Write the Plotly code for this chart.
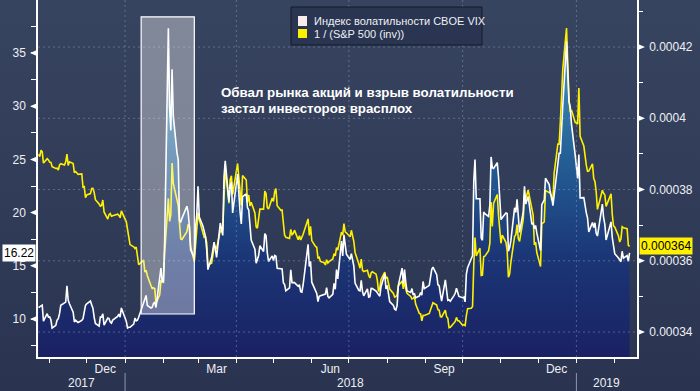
import plotly.graph_objects as go

# ---------------- data (daily closes) ----------------
trade_days = {
    "2017-10": "23 24 25 26 27 30 31",
    "2017-11": "1 2 3 6 7 8 9 10 13 14 15 16 17 20 21 22 24 27 28 29 30",
    "2017-12": "1 4 5 6 7 8 11 12 13 14 15 18 19 20 21 22 26 27 28 29",
    "2018-01": "2 3 4 5 8 9 10 11 12 16 17 18 19 22 23 24 25 26 29 30 31",
    "2018-02": "1 2 5 6 7 8 9 12 13 14 15 16 20 21 22 23 26 27 28",
    "2018-03": "1 2 5 6 7 8 9 12 13 14 15 16 19 20 21 22 23 26 27 28 29",
    "2018-04": "2 3 4 5 6 9 10 11 12 13 16 17 18 19 20 23 24 25 26 27 30",
    "2018-05": "1 2 3 4 7 8 9 10 11 14 15 16 17 18 21 22 23 24 25 29 30 31",
    "2018-06": "1 4 5 6 7 8 11 12 13 14 15 18 19 20 21 22 25 26 27 28 29",
    "2018-07": "2 3 5 6 9 10 11 12 13 16 17 18 19 20 23 24 25 26 27 30 31",
    "2018-08": "1 2 3 6 7 8 9 10 13 14 15 16 17 20 21 22 23 24 27 28 29 30 31",
    "2018-09": "4 5 6 7 10 11 12 13 14 17 18 19 20 21 24 25 26 27 28",
    "2018-10": "1 2 3 4 5 8 9 10 11 12 15 16 17 18 19 22 23 24 25 26 29 30 31",
    "2018-11": "1 2 5 6 7 8 9 12 13 14 15 16 19 20 21 23 26 27 28 29 30",
    "2018-12": "3 4 6 7 10 11 12 13 14 17 18 19 20 21 24 26 27 28 31",
    "2019-01": "2 3 4 7 8 9 10 11 14 15 16 17 18 22 23 24 25 28 29 30 31",
    "2019-02": "1 4 5 6 7 8 11 12 13",
}
dates = [f"{m}-{int(d):02d}" for m, s in trade_days.items() for d in s.split()]

vix = [
    11.07, 11.16, 11.23, 11.30, 9.80, 10.50, 10.18,
    10.20, 9.93, 9.14, 9.40, 9.89, 10.03, 10.50, 11.29, 11.50, 11.59, 13.13, 11.76, 11.43, 10.65, 9.73, 9.88, 9.67, 9.87, 10.03, 10.70, 11.28,
    11.43, 11.68, 11.33, 11.02, 10.16, 9.58, 9.34, 10.18, 10.18, 10.49, 9.42, 10.09, 10.03, 9.72, 9.62, 9.90, 10.25, 10.47, 10.18, 11.04,
    9.77, 9.15, 9.22, 9.22, 9.52, 10.08, 9.82, 9.88, 10.16, 11.66, 11.91, 12.22, 11.27, 11.03, 11.10, 11.47, 11.58, 11.08, 13.84, 14.79, 13.54,
    13.47, 17.31, 37.32, 29.98, 27.73, 33.46, 29.06, 25.61, 24.97, 19.26, 19.13, 19.46, 20.60, 20.02, 18.72, 16.49, 15.80, 18.59, 19.85,
    22.47, 19.59, 18.73, 18.36, 17.76, 16.54, 14.64, 15.78, 16.35, 17.23, 16.59, 15.80, 19.02, 18.20, 17.86, 23.34, 24.87, 21.03, 22.50, 22.87, 19.97,
    23.62, 21.10, 20.06, 18.94, 21.49, 21.77, 20.47, 20.24, 18.49, 17.41, 16.56, 15.25, 15.60, 15.96, 16.88, 16.34, 18.02, 17.84, 16.24, 15.41, 15.93,
    15.49, 15.97, 15.90, 14.77, 14.75, 14.71, 13.42, 13.23, 12.65, 12.93, 14.63, 13.42, 13.43, 13.42, 13.08, 13.22, 12.58, 12.53, 13.22, 17.02, 14.94, 15.43,
    13.46, 12.74, 12.40, 11.64, 12.13, 12.18, 12.35, 12.34, 12.94, 12.12, 11.98, 12.31, 13.35, 12.79, 14.64, 13.77, 17.33, 15.92, 17.91, 16.85, 16.09,
    15.60, 16.14, 14.97, 13.37, 12.69, 12.64, 13.63, 12.58, 12.18, 12.83, 12.06, 12.10, 12.87, 12.86, 12.62, 12.41, 12.29, 12.14, 13.03, 14.26, 12.83,
    13.15, 12.19, 11.64, 11.27, 10.93, 10.85, 11.27, 13.16, 14.78, 13.31, 14.64, 13.45, 12.64, 12.49, 12.86, 12.25, 12.41, 11.99, 12.16, 12.50, 12.25, 13.53, 12.86,
    13.16, 13.91, 14.65, 14.88, 14.16, 13.22, 13.14, 12.37, 11.68, 13.68, 12.79, 11.75, 11.80, 11.68, 12.20, 12.42, 12.89, 12.41, 12.12,
    12.00, 12.05, 11.61, 14.22, 14.82, 15.69, 15.95, 22.96, 24.98, 21.31, 21.30, 17.62, 17.40, 20.06, 19.89, 19.64, 20.71, 25.23, 24.22, 24.16, 24.70, 23.35, 21.23,
    19.34, 19.51, 19.96, 19.91, 16.36, 16.72, 17.36, 20.45, 20.02, 21.25, 19.98, 18.14, 20.10, 22.48, 20.80, 21.52, 18.90, 19.02, 18.49, 18.79, 18.07,
    16.44, 20.74, 21.19, 23.23, 22.64, 21.76, 21.46, 20.65, 21.63, 24.52, 25.58, 25.58, 28.38, 30.11, 36.07, 30.41, 29.96, 28.34, 25.42,
    23.22, 25.45, 21.38, 21.40, 20.47, 19.98, 19.50, 18.19, 19.07, 18.60, 19.04, 18.06, 17.80, 20.80, 19.52, 18.89, 17.42, 18.87, 19.13, 17.66, 16.57,
    16.14, 15.73, 15.57, 15.38, 16.37, 15.72, 15.97, 15.43, 16.22,
]

spx = [
    2564.98, 2569.13, 2557.15, 2560.40, 2581.07, 2572.83, 2575.26,
    2579.36, 2579.85, 2587.84, 2591.13, 2590.64, 2594.38, 2584.62, 2582.30, 2584.84, 2578.87, 2564.62, 2585.64, 2578.85, 2582.14, 2599.03, 2597.08, 2602.42, 2601.42, 2627.04, 2626.07, 2647.58,
    2642.22, 2639.44, 2629.57, 2629.27, 2636.98, 2651.50, 2659.99, 2664.11, 2662.85, 2652.01, 2675.81, 2690.16, 2681.47, 2679.25, 2684.57, 2683.34, 2680.50, 2682.62, 2687.54, 2673.61,
    2695.81, 2713.06, 2723.99, 2743.15, 2747.71, 2751.29, 2748.23, 2767.56, 2786.24, 2776.42, 2802.56, 2798.03, 2810.30, 2832.97, 2839.13, 2837.54, 2839.25, 2872.87, 2853.53, 2822.43, 2823.81,
    2821.98, 2762.13, 2648.94, 2695.14, 2681.66, 2581.00, 2619.55, 2656.00, 2662.94, 2698.63, 2731.20, 2732.22, 2716.26, 2701.33, 2703.96, 2747.30, 2779.60, 2744.28, 2713.83,
    2677.67, 2691.25, 2720.94, 2728.12, 2726.80, 2738.97, 2786.57, 2783.02, 2765.31, 2749.48, 2747.33, 2752.01, 2712.92, 2716.94, 2711.93, 2643.69, 2588.26, 2658.55, 2612.62, 2605.00, 2640.87,
    2581.88, 2614.45, 2644.69, 2662.84, 2604.47, 2613.16, 2656.87, 2642.19, 2663.99, 2656.30, 2677.84, 2706.39, 2708.64, 2693.13, 2670.14, 2670.29, 2634.56, 2639.40, 2666.94, 2669.91, 2648.05,
    2654.80, 2635.67, 2629.73, 2663.42, 2672.63, 2671.92, 2697.79, 2723.07, 2727.72, 2730.13, 2711.45, 2722.46, 2720.13, 2712.97, 2733.01, 2724.44, 2733.29, 2727.76, 2721.33, 2689.86, 2724.01, 2705.27,
    2734.62, 2746.87, 2748.80, 2772.35, 2770.37, 2779.03, 2782.00, 2786.85, 2775.63, 2782.49, 2779.66, 2773.75, 2762.59, 2767.32, 2749.76, 2754.88, 2717.07, 2723.06, 2699.63, 2716.31, 2718.37,
    2726.71, 2713.22, 2736.61, 2759.82, 2784.17, 2793.84, 2774.02, 2798.29, 2801.31, 2798.43, 2809.55, 2815.62, 2804.49, 2801.83, 2806.98, 2820.40, 2846.07, 2837.44, 2818.82, 2802.60, 2816.29,
    2813.36, 2827.22, 2840.35, 2850.40, 2858.45, 2857.70, 2853.58, 2833.28, 2821.93, 2839.96, 2818.37, 2840.69, 2850.13, 2857.05, 2862.96, 2861.82, 2856.98, 2874.69, 2896.74, 2897.52, 2914.04, 2901.13, 2901.52,
    2896.72, 2888.60, 2878.05, 2871.68, 2877.13, 2887.89, 2888.92, 2904.18, 2904.98, 2888.80, 2904.31, 2907.95, 2930.75, 2929.67, 2919.37, 2915.56, 2905.97, 2914.00, 2913.98,
    2924.59, 2923.43, 2925.51, 2901.61, 2885.57, 2884.43, 2880.34, 2785.68, 2728.37, 2767.13, 2750.79, 2809.92, 2809.21, 2768.78, 2767.78, 2755.88, 2740.69, 2656.10, 2705.57, 2658.69, 2641.25, 2682.63, 2711.74,
    2740.37, 2723.06, 2738.31, 2755.45, 2813.89, 2806.83, 2781.01, 2726.22, 2722.18, 2701.58, 2730.20, 2736.27, 2690.73, 2641.89, 2649.93, 2632.56, 2673.45, 2682.17, 2743.79, 2737.80, 2760.17,
    2790.37, 2700.06, 2695.95, 2633.08, 2637.72, 2636.78, 2651.07, 2650.54, 2599.95, 2545.94, 2546.16, 2506.96, 2467.42, 2416.62, 2351.10, 2467.70, 2488.83, 2485.74, 2506.85,
    2510.03, 2447.89, 2531.94, 2549.69, 2574.41, 2584.96, 2596.64, 2596.26, 2582.61, 2610.30, 2616.10, 2635.96, 2670.71, 2632.90, 2638.70, 2642.33, 2664.76, 2643.85, 2640.00, 2681.05, 2704.10,
    2706.53, 2724.87, 2737.70, 2731.61, 2706.05, 2707.88, 2709.80, 2744.73, 2747.00,
]
assert len(dates) == len(vix) == len(spx), (len(dates), len(vix), len(spx))
inv_spx = [1.0 / v for v in spx]   # series plotted: 1 / (S&P 500)

series_names = ["Индекс волатильности CBOE VIX", "1 / (S&P 500 (inv))"]
left_ticks = [10, 15, 20, 25, 30, 35]
right_ticks = [0.00034, 0.00036, 0.00038, 0.0004, 0.00042]
right_ticktext = ["0.00034", "0.00036", "0.00038", "0.0004", "0.00042"]
month_ticks = ["2017-12-16", "2018-03-16", "2018-06-16", "2018-09-16", "2018-12-16"]
month_text = ["Dec", "Mar", "Jun", "Sep", "Dec"]
year_text = ["2017", "2018", "2019"]
quarter_lines = ["2018-01-01", "2018-04-01", "2018-07-01", "2018-10-01", "2019-01-01"]
year_breaks = ["2018-01-01", "2019-01-01"]
note_lines = ["Обвал рынка акций и взрыв волатильности", "застал инвесторов врасплох"]

# ---------------- layout geometry / style ----------------
W, H = 700, 391
ML, MR, MT, MB = 38, 63, 0, 34
PW, PH = W - ML - MR, H - MT - MB
Y1 = [6.43, 39.98]
Y2 = [0.000333, 0.0004332]
XR = ["2017-10-22 14:00", "2019-02-19 00:00"]
BG = "#2f3b56"
GRID = "rgba(150,165,195,0.45)"
FONT = "Liberation Sans, Arial, sans-serif"
TXT = "#eef0f4"
YEL = "#fff000"


def pxx(px):
    return (px - ML) / PW


def pxy(py):
    return 1 - (py - MT) / PH


bg_svg = ("data:image/svg+xml;utf8,<svg xmlns='http://www.w3.org/2000/svg' width='700' height='391' "
          "preserveAspectRatio='none'><defs><linearGradient id='g' x1='0' y1='0' x2='0' y2='1'>"
          "<stop offset='0' stop-color='%23374460'/><stop offset='1' stop-color='%232a3450'/>"
          "</linearGradient></defs><rect width='700' height='391' fill='url(%23g)'/></svg>")

fig = go.Figure()
fig.add_trace(go.Scatter(
    x=dates, y=vix, mode="lines", line=dict(width=0, color="rgba(0,0,0,0)"),
    fill="tozeroy",
    fillgradient=dict(type="vertical", start=6.4, stop=38,
                      colorscale=[[0, "#1a2163"], [0.3, "#1b3676"], [0.6, "#246096"], [1, "#4aa3c9"]]),
    hoverinfo="skip", showlegend=False, yaxis="y"))
fig.add_trace(go.Scatter(x=dates, y=inv_spx, mode="lines", name=series_names[1],
                         line=dict(color=YEL, width=1.6), yaxis="y2", showlegend=False))
fig.add_trace(go.Scatter(x=dates, y=vix, mode="lines", name=series_names[0],
                         line=dict(color="#ffffff", width=1.6), yaxis="y3", showlegend=False))

shapes = []
for v in right_ticks:
    shapes.append(dict(type="line", xref="paper", yref="y2", x0=0, x1=1, y0=v, y1=v,
                       line=dict(color=GRID, width=1, dash="2px,3px"), layer="above"))
for d in quarter_lines:
    shapes.append(dict(type="line", xref="x", yref="paper", x0=d, x1=d, y0=0, y1=1,
                       line=dict(color=GRID, width=1, dash="2px,3px"), layer="above"))
for d in year_breaks:
    shapes.append(dict(type="line", xref="x", yref="paper", x0=d, x1=d,
                       y0=pxy(391), y1=pxy(373), line=dict(color="#8d97ab", width=1)))
shapes.append(dict(type="rect", xref="x", yref="y", x0="2018-01-14", x1="2018-02-26",
                   y0=10.47, y1=38.4, fillcolor="rgba(255,255,255,0.37)",
                   line=dict(color="#ffffff", width=1.2), layer="above"))
for v in left_ticks:
    yp = (v - Y1[0]) / (Y1[1] - Y1[0])
    h = 3 / PH
    shapes.append(dict(type="path", xref="paper", yref="paper",
                       path=f"M {pxx(30)},{yp} L {pxx(37)},{yp + h} L {pxx(37)},{yp - h} Z",
                       fillcolor="#ffffff", line=dict(width=0)))
for v in right_ticks:
    yp = (v - Y2[0]) / (Y2[1] - Y2[0])
    h = 3 / PH
    shapes.append(dict(type="path", xref="paper", yref="paper",
                       path=f"M {pxx(645)},{yp} L {pxx(638)},{yp + h} L {pxx(638)},{yp - h} Z",
                       fillcolor="#ffffff", line=dict(width=0)))
shapes.append(dict(type="rect", xref="paper", yref="paper", x0=pxx(291), x1=pxx(482),
                   y0=pxy(45), y1=pxy(7), fillcolor="#2a3551", line=dict(color="#141a28", width=1),
                   layer="above"))
shapes.append(dict(type="rect", xref="paper", yref="paper", x0=pxx(298), x1=pxx(307),
                   y0=pxy(26), y1=pxy(16), fillcolor="#f8ecec", line=dict(width=0), layer="above"))
shapes.append(dict(type="rect", xref="paper", yref="paper", x0=pxx(298), x1=pxx(307),
                   y0=pxy(38), y1=pxy(29), fillcolor=YEL, line=dict(width=0), layer="above"))

ann = []
ann.append(dict(xref="paper", yref="paper", x=pxx(312), y=pxy(21), xanchor="left", yanchor="middle",
                text=series_names[0], showarrow=False, font=dict(family=FONT, size=11, color=TXT)))
ann.append(dict(xref="paper", yref="paper", x=pxx(312), y=pxy(34), xanchor="left", yanchor="middle",
                text=series_names[1], showarrow=False, font=dict(family=FONT, size=11, color=TXT)))
for t, py in zip(note_lines, [93, 108]):
    ann.append(dict(xref="paper", yref="paper", x=pxx(219), y=pxy(py), xanchor="left",
                    yanchor="middle", text=f"<b>{t}</b>", align="left", showarrow=False,
                    font=dict(family=FONT, size=13.3, color="#ffffff")))
for t, px in zip(year_text, [81, 350, 606]):
    ann.append(dict(xref="paper", yref="paper", x=pxx(px), y=pxy(383), xanchor="center",
                    yanchor="middle", text=t, showarrow=False,
                    font=dict(family=FONT, size=12, color=TXT)))
ann.append(dict(xref="paper", yref="y", x=0, y=vix[-1], xanchor="right", yanchor="middle",
                xshift=-2, text=f"{vix[-1]:.2f}", showarrow=False, bgcolor="#ffffff",
                borderpad=1, font=dict(family=FONT, size=12, color="#000000")))
ann.append(dict(xref="paper", yref="y2", x=1, y=inv_spx[-1], xanchor="left", yanchor="middle",
                xshift=2, text=f"{inv_spx[-1]:.6f}", showarrow=False, bgcolor=YEL,
                borderpad=1, font=dict(family=FONT, size=12, color="#000000")))

axis_font = dict(family=FONT, size=12, color=TXT)
fig.update_layout(
    width=W, height=H, margin=dict(l=ML, r=MR, t=MT, b=MB, autoexpand=False),
    paper_bgcolor=BG, plot_bgcolor="rgba(0,0,0,0)", showlegend=False,
    shapes=shapes, annotations=ann,
    images=[dict(source=bg_svg, xref="paper", yref="paper", x=-ML / PW, y=1 + MT / PH,
                 sizex=W / PW, sizey=H / PH, sizing="stretch", xanchor="left", yanchor="top",
                 layer="below")],
    xaxis=dict(type="date", range=XR, showgrid=False, zeroline=False, automargin=False,
               showline=True, linecolor="#ffffff", linewidth=1.5,
               tickmode="array", tickvals=month_ticks, ticktext=month_text,
               ticks="", tickfont=axis_font,
               minor=dict(ticks="outside", dtick="M1", tick0="2017-11-01", ticklen=4,
                          tickcolor="#ffffff", showgrid=False)),
    yaxis=dict(range=Y1, showgrid=False, zeroline=False, showline=True, automargin=False,
               linecolor="#ffffff", linewidth=1.5, tickmode="array", tickvals=left_ticks,
               ticks="outside", ticklen=8, tickcolor="rgba(0,0,0,0)", tickfont=axis_font,
               minor=dict(ticks="outside", dtick=2.5, tick0=0, ticklen=5,
                          tickcolor="#ffffff", showgrid=False)),
    yaxis2=dict(range=Y2, overlaying="y", side="right", showgrid=False, zeroline=False,
                showline=True, linecolor="#ffffff", linewidth=1.5, tickmode="array",
                automargin=False,
                tickvals=right_ticks, ticktext=right_ticktext, ticks="outside", ticklen=8,
                tickcolor="rgba(0,0,0,0)", tickfont=axis_font,
                minor=dict(ticks="outside", dtick=0.00001, tick0=0, ticklen=4,
                           tickcolor="#ffffff", showgrid=False)),
    yaxis3=dict(range=Y1, overlaying="y", visible=False),
)

fig.write_html("out.html", config={"displayModeBar": False},
               post_script="document.body.style.margin='0px';document.body.style.padding='0px';"
                           "document.body.style.background='" + BG + "';")
